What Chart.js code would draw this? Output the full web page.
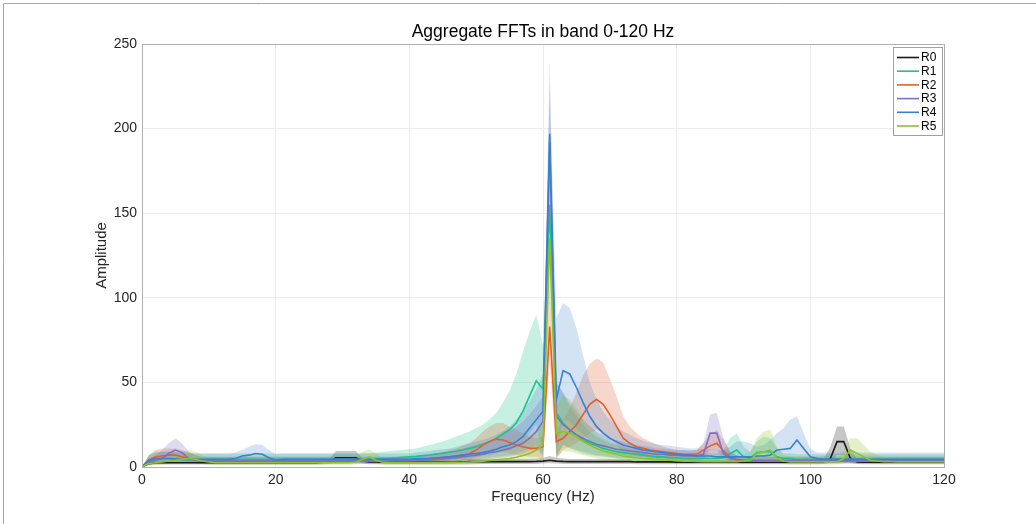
<!DOCTYPE html>
<html>
<head>
<meta charset="utf-8">
<script src="https://cdn.jsdelivr.net/npm/chart.js@4.4.1/dist/chart.umd.min.js"></script>
<style>
  html, body { margin: 0; padding: 0; background: #fff; }
  #marco { width: 1036px; height: 524px; }
</style>
</head>
<body>
<div id="marco"><canvas id="grafico-fft" width="1036" height="524"></canvas></div>
<script>
const FUENTE = '"Liberation Sans", Arial, Helvetica, sans-serif';
const TITULO = "Aggregate FFTs in band 0-120 Hz";

// Frecuencias (Hz), un punto por Hz
const freq = [0, 1, 2, 3, 4, 5, 6, 7, 8, 9, 10,
  11, 12, 13, 14, 15, 16, 17, 18, 19, 20,
  21, 22, 23, 24, 25, 26, 27, 28, 29, 30,
  31, 32, 33, 34, 35, 36, 37, 38, 39, 40,
  41, 42, 43, 44, 45, 46, 47, 48, 49, 50,
  51, 52, 53, 54, 55, 56, 57, 58, 59, 60,
  61, 62, 63, 64, 65, 66, 67, 68, 69, 70,
  71, 72, 73, 74, 75, 76, 77, 78, 79, 80,
  81, 82, 83, 84, 85, 86, 87, 88, 89, 90,
  91, 92, 93, 94, 95, 96, 97, 98, 99, 100,
  101, 102, 103, 104, 105, 106, 107, 108, 109, 110,
  111, 112, 113, 114, 115, 116, 117, 118, 119, 120];

const xTicks = [0, 20, 40, 60, 80, 100, 120];
const yTicks = [0, 50, 100, 150, 200, 250];
const nombres = ["R0", "R1", "R2", "R3", "R4", "R5"];

// R0
const r0Mean = [0, 2, 2.5, 2.5, 2.5, 2.5, 2.5, 2.5, 2.5, 2.5, 2.5,
  2.5, 2.5, 2.5, 2.5, 2.5, 2.5, 2.5, 2.5, 2.5, 2.5,
  2.5, 2.5, 2.5, 2.5, 2.5, 2.5, 2.8, 3, 5.5, 5.5,
  5.5, 5.5, 3.5, 3, 3, 2.8, 2.8, 2.8, 2.8, 2.8,
  2.8, 2.8, 2.8, 2.8, 2.8, 2.8, 2.8, 3, 3.2, 3.2,
  3.2, 3.2, 3.2, 3.2, 3.2, 3.2, 3.2, 3.2, 3.3, 3.5,
  4, 3.5, 3.3, 3.2, 3.2, 3.2, 3.2, 3.2, 3.2, 3.2,
  3.2, 3.2, 3.2, 3, 3, 3, 3, 3, 3, 2.8,
  2.8, 2.8, 2.8, 2.8, 2.8, 2.8, 2.8, 2.8, 2.8, 2.8,
  2.8, 2.8, 2.8, 2.8, 2.8, 2.8, 2.8, 2.8, 2.8, 2.8,
  2.8, 3, 5, 15, 15, 5, 3, 2.8, 2.8, 2.8,
  2.8, 2.8, 2.8, 2.8, 2.8, 2.8, 2.8, 2.8, 2.8, 2.8];
const r0Lo = [0, 1, 1.5, 1.5, 1.5, 1.5, 1.5, 1.5, 1.5, 1.5, 1.5,
  1.5, 1.5, 1.5, 1.5, 1.5, 1.5, 1.5, 1.5, 1.5, 1.5,
  1.5, 1.5, 1.5, 1.5, 1.5, 1.5, 1.6, 1.8, 3, 3.5,
  3.5, 3.5, 2, 1.6, 1.6, 1.6, 1.6, 1.6, 1.6, 1.6,
  1.6, 1.6, 1.6, 1.6, 1.6, 1.6, 1.6, 1.6, 1.6, 1.6,
  1.8, 1.8, 1.8, 1.8, 1.8, 1.8, 1.8, 1.8, 1.8, 2,
  2.2, 2, 1.8, 1.8, 1.8, 1.8, 1.8, 1.8, 1.8, 1.8,
  1.8, 1.8, 1.8, 1.6, 1.6, 1.6, 1.6, 1.6, 1.6, 1.6,
  1.6, 1.6, 1.6, 1.6, 1.6, 1.6, 1.6, 1.6, 1.6, 1.6,
  1.6, 1.6, 1.6, 1.6, 1.6, 1.6, 1.6, 1.6, 1.6, 1.6,
  1.6, 1.8, 2.5, 7, 7, 2.5, 1.8, 1.6, 1.6, 1.6,
  1.6, 1.6, 1.6, 1.6, 1.6, 1.6, 1.6, 1.6, 1.6, 1.6];
const r0Hi = [0, 3.5, 4, 4, 4, 4, 4, 4, 4, 4, 4,
  4, 4, 4, 4, 4, 4, 4, 4, 4, 4,
  4, 4, 4, 4, 4, 4, 4.2, 4.5, 9.5, 9.5,
  9.5, 9.5, 5, 4.3, 4.3, 4.2, 4.2, 4.2, 4.2, 4.2,
  4.2, 4.2, 4.2, 4.2, 4.2, 4.2, 4.2, 4.5, 4.8, 4.8,
  4.8, 4.8, 4.8, 4.8, 4.8, 4.8, 4.8, 4.8, 5, 5.5,
  6.5, 5.5, 5, 4.8, 4.8, 4.8, 4.8, 4.8, 4.8, 4.8,
  4.8, 4.8, 4.8, 4.5, 4.5, 4.5, 4.5, 4.5, 4.5, 4.2,
  4.2, 4.2, 4.2, 4.2, 4.2, 4.2, 4.2, 4.2, 4.2, 4.2,
  4.2, 4.2, 4.2, 4.2, 4.2, 4.2, 4.2, 4.2, 4.2, 4.2,
  4.2, 5, 12, 24, 24, 11, 5, 4.2, 4.2, 4.2,
  4.2, 4.2, 4.2, 4.2, 4.2, 4.2, 4.2, 4.2, 4.2, 4.2];

// R1
const r1Mean = [0, 4, 5, 5, 5, 4.5, 4.5, 4.5, 4.5, 4.5, 4.5,
  4.5, 4.5, 4.5, 4.5, 4.5, 4.5, 4.5, 4.5, 4.5, 4.5,
  4.5, 4.5, 4.5, 4.5, 4.5, 4.5, 4.5, 4.5, 4.5, 4.5,
  4.5, 4.5, 4.5, 4.6, 4.8, 5, 5.2, 5.4, 5.7, 6,
  6.3, 6.7, 7.1, 7.6, 8.1, 8.7, 9.3, 10, 11, 12,
  13.5, 15, 17, 19.5, 22, 26, 33, 42, 51, 46,
  155, 32, 26, 22, 19, 16, 14, 12.5, 11, 10,
  9, 8.5, 8, 7.5, 7, 6.5, 6, 6, 5.5, 5.5,
  5, 5, 5, 5, 5, 5, 5.5, 8, 10, 6,
  5, 8.5, 9, 9, 6, 5, 5, 4.5, 4.5, 4.5,
  4.5, 4.5, 4.5, 4.5, 4.5, 4.5, 4.5, 4.5, 4.5, 4.5,
  4.5, 4.5, 4.5, 4.5, 4.5, 4.5, 4.5, 4.5, 4.5, 4.5];
const r1Lo = [0, 2, 2.5, 2.5, 2.5, 2.5, 2.5, 2.5, 2.5, 2.5, 2.5,
  2.5, 2.5, 2.5, 2.5, 2.5, 2.5, 2.5, 2.5, 2.5, 2.5,
  2.5, 2.5, 2.5, 2.5, 2.5, 2.5, 2.5, 2.5, 2.5, 2.5,
  2.5, 2.5, 2.5, 2.5, 2.6, 2.7, 2.8, 2.9, 3, 3,
  3, 3.2, 3.5, 3.7, 4, 4.2, 4.5, 5, 5.5, 6,
  6.5, 7, 8, 9, 10, 12, 15, 20, 25, 8,
  128, 6, 13, 11, 9.5, 8, 7, 6.5, 6, 5.5,
  5, 4.5, 4.5, 4, 4, 3.5, 3.5, 3.5, 3, 3,
  3, 3, 3, 3, 3, 3, 3, 3.5, 4, 3,
  3, 3.5, 3.5, 3.5, 3, 3, 3, 2.5, 2.5, 2.5,
  2.5, 2.5, 2.5, 2.5, 2.5, 2.5, 2.5, 2.5, 2.5, 2.5,
  2.5, 2.5, 2.5, 2.5, 2.5, 2.5, 2.5, 2.5, 2.5, 2.5];
const r1Hi = [0, 7, 9, 9, 9, 8.5, 8, 8, 8, 8, 8,
  8, 8, 8, 8, 8, 8, 8, 8, 8, 8,
  8, 8, 8, 8, 8, 8, 8, 8, 8, 8,
  8, 8, 8, 8.2, 8.5, 9, 9.3, 9.7, 10, 10.5,
  11, 12, 13, 14, 15, 16.5, 18, 19.5, 21, 23,
  25, 28, 32, 38, 45, 55, 68, 80, 90, 72,
  178, 50, 44, 36, 30, 25, 21, 18, 16, 14,
  13, 12, 11, 10.5, 10, 9.5, 9, 9, 8.5, 8.5,
  8, 8, 8, 8, 8, 8, 10, 17, 20, 12,
  9, 15, 18, 17, 11, 8, 8, 7.5, 7.5, 7.5,
  7.5, 7.5, 7.5, 7.5, 7.5, 7.5, 7.5, 7.5, 7.5, 7.5,
  7.5, 7.5, 7.5, 7.5, 7.5, 7.5, 7.5, 7.5, 7.5, 7.5];

// R2
const r2Mean = [0, 4, 6, 6.5, 7, 7, 6, 5, 4, 3.5, 3.5,
  3.5, 3.5, 3.5, 3.5, 3.5, 3.5, 3.5, 3.5, 3.5, 3.5,
  3.5, 3.5, 3.5, 3.5, 3.5, 3.5, 3.5, 3.5, 3.5, 3.5,
  3.5, 3.5, 3.5, 3.5, 3.5, 3.6, 3.7, 3.8, 3.9, 4,
  4.2, 4.5, 4.8, 5, 5.5, 6, 6.5, 7, 8, 10,
  13, 15, 16.5, 16, 14.5, 13, 12, 11, 11, 12,
  83, 15, 17, 21, 25, 31, 37, 40, 37, 31,
  24, 17, 14, 12, 11, 10, 9.5, 9, 8.5, 8,
  7.5, 7.5, 7.5, 10, 12.5, 14, 9.5, 6, 4, 3.5,
  3.5, 3.5, 3.5, 3.5, 3.5, 3.5, 3.5, 3.5, 3.5, 3.5,
  3.5, 3.5, 3.5, 3.5, 3.5, 3.5, 3.5, 3.5, 3.5, 3.5,
  3.5, 3.5, 3.5, 3.5, 3.5, 3.5, 3.5, 3.5, 3.5, 3.5];
const r2Lo = [0, 2, 3, 3.5, 4, 4, 3.5, 3, 2.5, 2, 2,
  2, 2, 2, 2, 2, 2, 2, 2, 2, 2,
  2, 2, 2, 2, 2, 2, 2, 2, 2, 2,
  2, 2, 2, 2, 2, 2, 2, 2, 2, 2,
  2, 2.5, 2.5, 3, 3, 3.5, 3.5, 4, 4.5, 5.5,
  7, 8, 9, 9, 8, 7, 6.5, 6, 6, 5,
  62, 5, 10, 12, 14, 17, 20, 22, 20, 17,
  13, 9, 7.5, 6.5, 6, 5.5, 5, 5, 4.5, 4.5,
  4, 4, 4, 5, 6.5, 7, 5, 3.5, 2.5, 2,
  2, 2, 2, 2, 2, 2, 2, 2, 2, 2,
  2, 2, 2, 2, 2, 2, 2, 2, 2, 2,
  2, 2, 2, 2, 2, 2, 2, 2, 2, 2];
const r2Hi = [0, 7, 10, 11, 11, 11, 10, 8.5, 7, 6, 6,
  6, 6, 6, 6, 6, 6, 6, 6, 6, 6,
  6, 6, 6, 6, 6, 6, 6, 6, 6, 6,
  6, 6, 6, 6, 6, 6, 6, 6, 6, 6,
  6.5, 7, 7.5, 8, 9, 10, 11, 12.5, 14, 17,
  21, 24, 26, 26, 24, 22, 20, 18, 17, 18,
  110, 22, 28, 35, 44, 54, 61, 64, 62, 52,
  42, 30, 24, 20, 17, 15, 13.5, 12, 11, 10,
  10, 9.5, 10, 14, 19, 22, 16, 9, 7, 6,
  6, 6, 6, 6, 6, 6, 6, 6, 6, 6,
  6, 6, 6, 6, 6, 6, 6, 6, 6, 6,
  6, 6, 6, 6, 6, 6, 6, 6, 6, 6];

// R3
const r3Mean = [0, 3, 4, 5, 8, 10, 8.5, 5, 4, 3.5, 3.5,
  3.7, 3.7, 3.7, 3.7, 3.7, 3.7, 3.7, 3.7, 3.7, 3.7,
  3.7, 3.7, 3.7, 3.7, 3.7, 3.7, 3.7, 3.7, 3.7, 3.7,
  3.7, 3.7, 3.7, 3.7, 3.7, 3.7, 3.7, 3.7, 3.7, 3.7,
  3.8, 4, 4.2, 4.5, 4.8, 5, 5.5, 6, 6.5, 7,
  7.5, 8.5, 9, 10, 11, 12.5, 14, 17, 21, 27,
  192, 30, 25, 22, 19, 17, 15, 13.5, 12.5, 11.5,
  10.5, 10, 9.5, 9, 8.5, 8, 7.5, 7.5, 7, 7,
  6.5, 6.5, 6.5, 7.5, 20, 20, 8, 5, 4.5, 4,
  4, 4, 4, 4, 4, 4, 4, 4, 4, 4,
  4, 4, 4, 4, 4, 4, 4, 4, 4, 4,
  4, 4, 4, 4, 4, 4, 4, 4, 4, 4];
const r3Lo = [0, 1.5, 2, 2.5, 4, 5, 4, 2.5, 2, 2, 2,
  2, 2, 2, 2, 2, 2, 2, 2, 2, 2,
  2, 2, 2, 2, 2, 2, 2, 2, 2, 2,
  2, 2, 2, 2, 2, 2, 2, 2, 2, 2,
  2, 2, 2.2, 2.5, 2.6, 2.8, 3, 3.2, 3.5, 3.8,
  4, 4.5, 5, 5.5, 6, 7, 8, 9.5, 11, 6,
  150, 6, 13, 11.5, 10, 9, 8, 7, 6.5, 6,
  5.5, 5.5, 5, 5, 4.5, 4.5, 4, 4, 4, 4,
  3.5, 3.5, 3.5, 4.5, 10, 10, 5, 3, 2.5, 2,
  2, 2, 2, 2, 2, 2, 2, 2, 2, 2,
  2, 2, 2, 2, 2, 2, 2, 2, 2, 2,
  2, 2, 2, 2, 2, 2, 2, 2, 2, 2];
const r3Hi = [0, 5, 7, 10, 14, 17, 14, 9, 7, 6, 6,
  6, 6, 6, 6, 6, 6, 6, 6, 6, 6,
  6, 6, 6, 6, 6, 6, 6, 6, 6, 6,
  6, 6, 6, 6, 6, 6, 6, 6, 6, 6,
  6.5, 7, 7.5, 8, 8.5, 9, 10, 11, 12, 13,
  14, 15.5, 17, 19, 21, 24, 27, 31, 36, 42,
  240, 50, 44, 38, 33, 28, 24, 21, 19, 17,
  16, 15, 14, 13, 12.5, 12, 11, 11, 10.5, 10,
  10, 10, 10, 14, 31, 32, 17, 9, 7, 6,
  6, 6, 6, 6, 6, 6, 6, 6, 6, 6,
  6, 6, 6, 6, 6, 6, 6, 6, 6, 6,
  6, 6, 6, 6, 6, 6, 6, 6, 6, 6];

// R4
const r4Mean = [0, 4, 5, 5, 5, 4.8, 4.5, 4.5, 4.5, 4.5, 4.5,
  4.5, 4.5, 4.5, 5, 6.5, 7, 8, 7.5, 5.5, 4,
  4.5, 4.5, 4.5, 4.5, 4.5, 4.5, 4.5, 4.5, 4.5, 4.5,
  4.5, 4.5, 4.5, 4.5, 4.5, 4.5, 4.5, 4.5, 4.5, 4.5,
  4.8, 5, 5.2, 5.5, 5.8, 6, 6.5, 7, 7.5, 8,
  8.5, 9.5, 10.5, 12, 13, 15, 18, 23, 28, 33,
  197, 40, 57, 55, 47, 38, 30, 24, 20, 17,
  15, 13, 12, 11, 10, 9.5, 9, 8.5, 8, 7.5,
  7, 7, 6.5, 6.5, 6.5, 6, 6, 6, 6, 6,
  6, 6.5, 6.5, 7, 10, 10.5, 11, 16, 11, 6,
  5, 4.5, 4.5, 4.5, 4.5, 4.5, 4.5, 4.5, 4.5, 4.5,
  4.5, 4.5, 4.5, 4.5, 4.5, 4.5, 4.5, 4.5, 4.5, 4.5];
const r4Lo = [0, 2, 2.5, 2.5, 2.5, 2.5, 2.5, 2.5, 2.5, 2.5, 2.5,
  2.5, 2.5, 2.5, 2.8, 3.5, 3.8, 4, 4, 3, 2.5,
  2.5, 2.5, 2.5, 2.5, 2.5, 2.5, 2.5, 2.5, 2.5, 2.5,
  2.5, 2.5, 2.5, 2.5, 2.5, 2.5, 2.5, 2.5, 2.5, 2.5,
  2.6, 2.8, 3, 3, 3.2, 3.4, 3.6, 3.8, 4, 4.5,
  5, 5.5, 6, 6.5, 7, 8, 9.5, 11, 13, 7,
  165, 7, 28, 27, 23, 19, 15, 12, 10, 9,
  8, 7, 6.5, 6, 5.5, 5, 5, 4.5, 4.5, 4,
  4, 4, 3.5, 3.5, 3.5, 3.5, 3.5, 3.5, 3.5, 3.5,
  3.5, 3.5, 3.5, 4, 5, 5, 5, 6, 5, 3.5,
  2.5, 2.5, 2.5, 2.5, 2.5, 2.5, 2.5, 2.5, 2.5, 2.5,
  2.5, 2.5, 2.5, 2.5, 2.5, 2.5, 2.5, 2.5, 2.5, 2.5];
const r4Hi = [0, 7, 8.5, 9, 9, 9, 9, 8.5, 8, 8, 8,
  8, 8, 8, 8.5, 10, 12, 13.5, 13, 10, 7.5,
  8, 8, 8, 8, 8, 8, 8, 8, 8, 8,
  8, 8, 8, 8, 8, 8, 8, 8, 8, 8,
  8.5, 9, 9.5, 10, 10.5, 11, 12, 13, 14, 15,
  16, 17.5, 19, 21, 24, 28, 33, 39, 46, 55,
  225, 88, 97, 94, 82, 66, 50, 40, 33, 28,
  24, 21, 19, 17, 15.5, 14.5, 13.5, 13, 12.5, 12,
  11.5, 11, 11, 10.5, 10.5, 10, 10, 12, 15, 15,
  14, 12, 13, 16, 20, 23, 28, 30, 20, 11,
  8.5, 8.5, 8.5, 8.5, 8.5, 8.5, 8.5, 8.5, 8.5, 8.5,
  8.5, 8.5, 8.5, 8.5, 8.5, 8.5, 8.5, 8.5, 8.5, 8.5];

// R5
const r5Mean = [0, 2, 2.5, 3, 3.5, 4, 4.5, 5, 4.5, 3.5, 3,
  2.5, 2.5, 2.5, 2.5, 2.5, 2.5, 2.5, 2.5, 2.5, 2.5,
  2.5, 2.5, 2.5, 2.5, 2.5, 2.5, 2.5, 2.5, 2.5, 2.5,
  2.5, 3, 4.5, 6, 4, 2.8, 2.5, 2.5, 2.5, 2.5,
  2.5, 2.5, 2.5, 2.5, 2.5, 2.6, 2.7, 2.8, 3, 3.2,
  3.5, 3.8, 4.2, 4.6, 5, 5.8, 6.8, 8, 10, 13,
  135, 20, 21, 20, 18, 15, 13, 11, 9.5, 8.5,
  7.5, 6.5, 6, 5.5, 5, 4.8, 4.5, 4.2, 4, 3.8,
  3.5, 3.5, 3.3, 3.2, 3.2, 3.2, 3.2, 3.2, 3.2, 3.5,
  4, 8, 9, 10, 5, 3.5, 3, 3, 3, 3,
  3, 3, 3, 3, 5, 10, 8, 6, 4, 3.5,
  3.2, 3.2, 3, 3, 3, 3, 3, 3, 3, 3];
const r5Lo = [0, 1, 1.2, 1.5, 1.8, 2, 2.2, 2.5, 2.2, 1.8, 1.5,
  1.2, 1.2, 1.2, 1.2, 1.2, 1.2, 1.2, 1.2, 1.2, 1.2,
  1.2, 1.2, 1.2, 1.2, 1.2, 1.2, 1.2, 1.2, 1.2, 1.2,
  1.2, 1.5, 2, 2.5, 2, 1.4, 1.2, 1.2, 1.2, 1.2,
  1.2, 1.2, 1.2, 1.2, 1.2, 1.3, 1.3, 1.4, 1.5, 1.6,
  1.8, 2, 2.2, 2.4, 2.6, 3, 3.5, 4, 5, 4,
  112, 5, 9.5, 9, 8, 7, 6, 5, 4.5, 4,
  3.5, 3, 2.8, 2.6, 2.4, 2.3, 2.2, 2, 2, 1.8,
  1.7, 1.7, 1.7, 1.7, 1.7, 1.7, 1.7, 1.7, 1.7, 1.7,
  2, 3, 3.5, 4, 2.5, 1.8, 1.5, 1.5, 1.5, 1.5,
  1.5, 1.5, 1.5, 1.5, 2.5, 4, 3.5, 2.8, 2, 1.8,
  1.6, 1.6, 1.6, 1.6, 1.6, 1.6, 1.6, 1.6, 1.6, 1.6];
const r5Hi = [0, 4, 5, 6, 7, 8, 9, 10, 9, 7, 5.5,
  5, 5, 5, 5, 5, 5, 5, 5, 5, 5,
  5, 5, 5, 5, 5, 5, 5, 5, 5, 5,
  5, 6.5, 9, 10.5, 8, 5.5, 5, 5, 5, 5,
  5, 5, 5, 5, 5.5, 6, 6, 6.5, 7, 7.5,
  8, 9, 10, 11, 12, 14, 16, 19, 22, 26,
  155, 36, 42, 40, 35, 28, 24, 20, 17, 15,
  13, 11, 10, 9, 8, 7.5, 7, 6.5, 6.5, 6,
  6, 6, 6, 6, 6, 6, 6, 6, 6, 7,
  9, 17, 21, 22, 12, 7, 6, 6, 6, 6,
  6, 6, 6, 6, 10, 17, 17, 13, 9, 7,
  6, 6, 6, 6, 6, 6, 6, 6, 6, 6];

const colores = ["#1a1a1a", "#1dc489", "#e0602e", "#7d70c4", "#3a80cc", "#8ec22a"];
const bandas = ["rgba(0,0,0,0.22)", "rgba(29,196,137,0.25)", "rgba(224,96,46,0.25)",
  "rgba(125,112,196,0.25)", "rgba(58,128,204,0.22)", "rgba(142,194,42,0.25)"];

const medias = [r0Mean, r1Mean, r2Mean, r3Mean, r4Mean, r5Mean];
const inferiores = [r0Lo, r1Lo, r2Lo, r3Lo, r4Lo, r5Lo];
const superiores = [r0Hi, r1Hi, r2Hi, r3Hi, r4Hi, r5Hi];

const aPuntos = arr => freq.map((f, i) => ({ x: f, y: arr[i] }));

const datasets = [];
// bandas sombreadas: limite inferior invisible + superior que rellena hasta el
nombres.forEach((n, i) => {
    datasets.push({ label: n + " min", data: aPuntos(inferiores[i]), borderWidth: 0, borderColor: "transparent",
        pointRadius: 0, fill: false, order: 30 - i });
    datasets.push({ label: n + " max", data: aPuntos(superiores[i]), borderWidth: 0, borderColor: "transparent",
        pointRadius: 0, fill: 2 * i, backgroundColor: bandas[i], order: 30 - i });
});
// lineas medias
nombres.forEach((n, i) => {
    datasets.push({ label: n, data: aPuntos(medias[i]), borderColor: colores[i], borderWidth: 1.6,
        pointRadius: 0, fill: false, order: 10 - i });
});

// Marco de la figura, titulo, caja de ejes y leyenda estilo MATLAB
const adornos = {
    id: "adornos",
    beforeDraw(chart) {
        const ctx = chart.ctx;
        ctx.save();
        ctx.strokeStyle = "#a8a8a8";
        ctx.lineWidth = 1;
        ctx.beginPath();
        ctx.moveTo(3.5, 524); ctx.lineTo(3.5, 3.5); ctx.lineTo(1036, 3.5);
        ctx.stroke();
        ctx.restore();
    },
    afterDraw(chart) {
        const ctx = chart.ctx;
        const a = chart.chartArea;
        ctx.save();
        ctx.strokeStyle = "#b0b0b0";
        ctx.lineWidth = 1;
        ctx.strokeRect(Math.round(a.left) + 0.5, Math.round(a.top) + 0.5,
            Math.round(a.right - a.left), Math.round(a.bottom - a.top));

        // titulo centrado sobre el area de datos
        ctx.fillStyle = "#000";
        ctx.font = "17.5px " + FUENTE;
        ctx.textAlign = "center";
        ctx.textBaseline = "middle";
        ctx.fillText(TITULO, (a.left + a.right) / 2, 32);

        const x0 = 893.5, y0 = 47.5;
        ctx.fillStyle = "#fff";
        ctx.fillRect(x0, y0, 49, 88);
        ctx.strokeStyle = "#a0a0a0";
        ctx.strokeRect(x0, y0, 49, 88);
        ctx.font = "12px " + FUENTE;
        ctx.textAlign = "left";
        nombres.forEach((n, i) => {
            const y = 57.5 + i * 13.7;
            ctx.strokeStyle = colores[i];
            ctx.lineWidth = 1.6;
            ctx.beginPath(); ctx.moveTo(897, y); ctx.lineTo(919, y); ctx.stroke();
            ctx.fillStyle = "#000";
            ctx.fillText(n, 921, y + 0.5);
        });
        ctx.restore();
    }
};

new Chart(document.getElementById("grafico-fft").getContext("2d"), {
    type: "line",
    data: { datasets },
    plugins: [adornos],
    options: {
        responsive: false,
        animation: false,
        layout: { padding: { left: 80, right: 92, top: 44, bottom: 0 } },
        elements: { line: { tension: 0 } },
        plugins: {
            legend: { display: false },
            tooltip: { enabled: false },
            title: { display: false }
        },
        scales: {
            x: {
                type: "linear",
                min: 0, max: 120,
                afterBuildTicks: s => { s.ticks = xTicks.map(v => ({ value: v })); },
                afterFit: s => { s.height = 57; },
                ticks: { color: "#262626", font: { family: FUENTE, size: 14 }, padding: 5, maxRotation: 0 },
                grid: { color: "#ececec", drawTicks: false },
                border: { color: "#b0b0b0" },
                title: { display: true, text: "Frequency (Hz)", color: "#262626",
                    font: { family: FUENTE, size: 15 }, padding: { top: 0, bottom: 18 } }
            },
            y: {
                type: "linear",
                min: 0, max: 250,
                afterBuildTicks: s => { s.ticks = yTicks.map(v => ({ value: v })); },
                afterFit: s => { s.width = 62; },
                ticks: { color: "#262626", font: { family: FUENTE, size: 14 }, padding: 5 },
                grid: { color: "#ececec", drawTicks: false },
                border: { color: "#b0b0b0" },
                title: { display: true, text: "Amplitude", color: "#262626",
                    font: { family: FUENTE, size: 15 }, padding: { top: 13, bottom: 0 } }
            }
        }
    }
});
</script>
</body>
</html>
